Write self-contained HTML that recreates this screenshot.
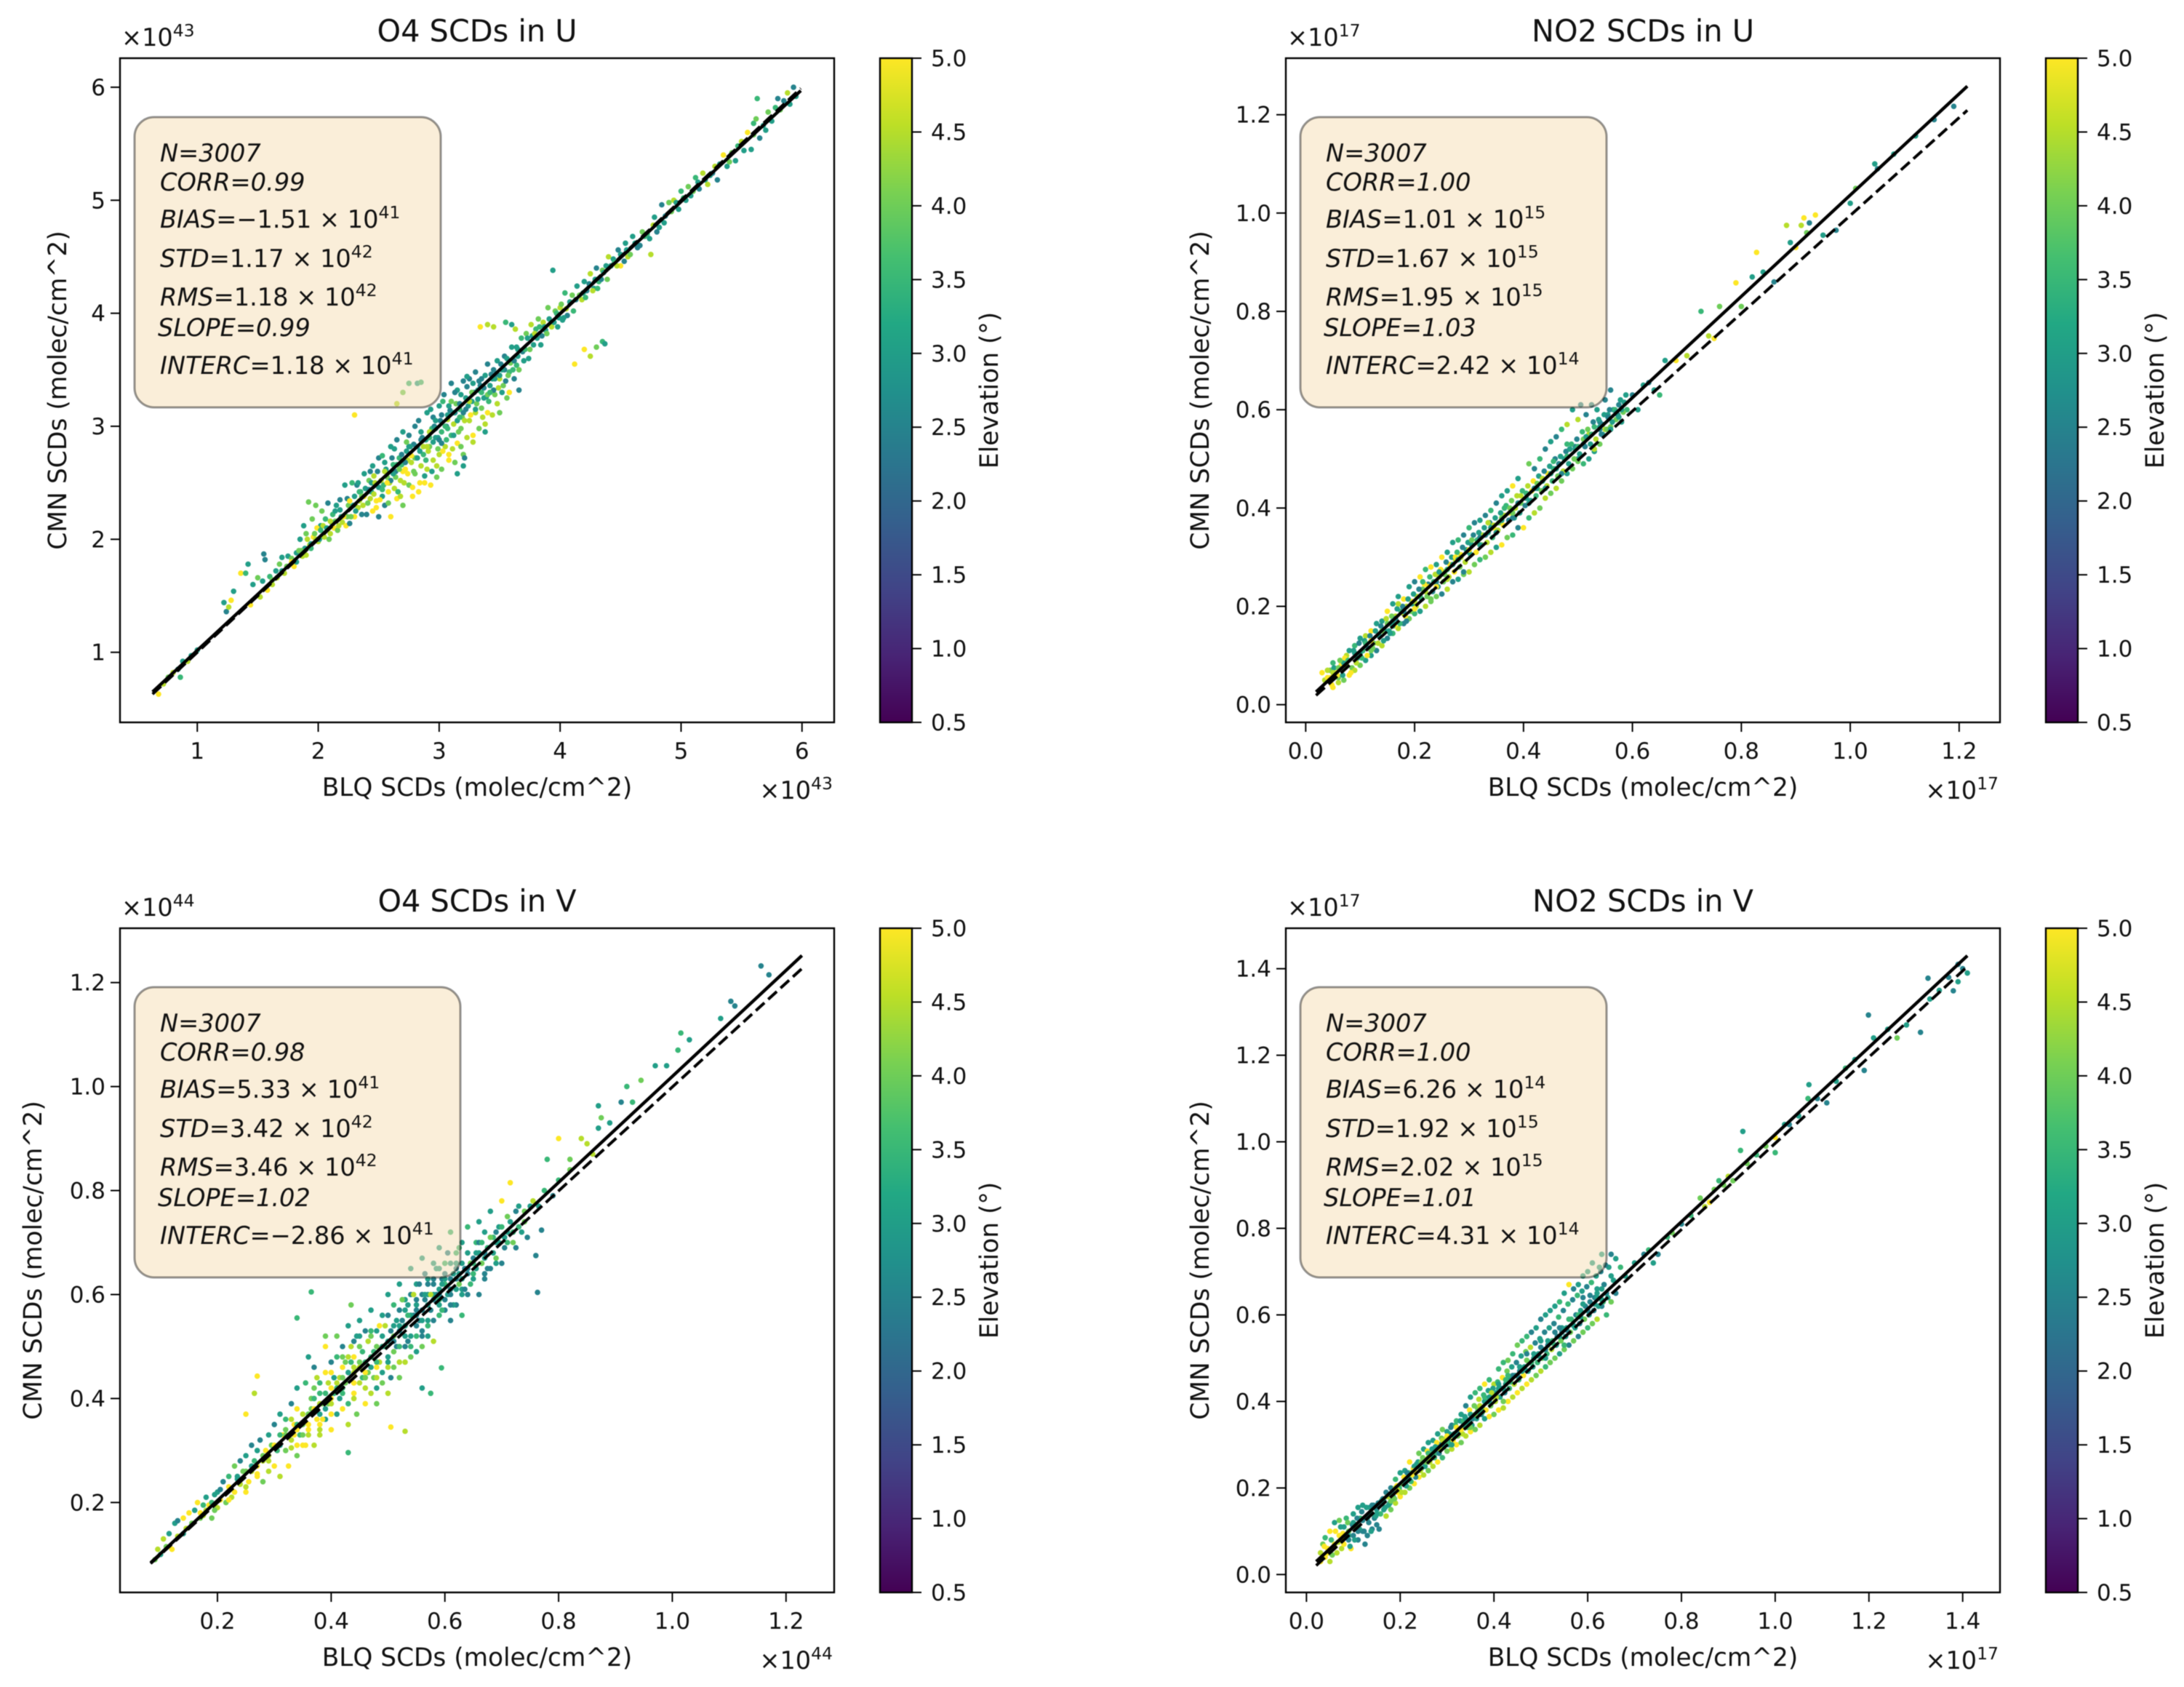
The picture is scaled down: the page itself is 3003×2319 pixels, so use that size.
<!DOCTYPE html>
<html lang="en">
<head>
<meta charset="utf-8">
<title>BLQ vs CMN SCDs scatter comparison</title>
<style>
html,body{margin:0;padding:0;background:#fff;}
svg{display:block;font-family:"DejaVu Sans","Liberation Sans",sans-serif;fill:#111;filter:blur(.5px);}
</style>
</head>
<body>
<!-- Scatter arrays are hand-estimated from the image: a reduced subset of the 3007 points per panel. Isolated outliers are read individually; positions inside the dense bands are approximate. -->
<svg id="figure" width="3003" height="2319" viewBox="0 0 3003 2319">
<defs>
<linearGradient id="viridis" x1="0" y1="1" x2="0" y2="0">
<stop offset="0" stop-color="#440154"/><stop offset=".1" stop-color="#482475"/><stop offset=".2" stop-color="#414487"/><stop offset=".3" stop-color="#355f8d"/><stop offset=".4" stop-color="#2a788e"/><stop offset=".5" stop-color="#21918c"/><stop offset=".6" stop-color="#22a884"/><stop offset=".7" stop-color="#44bf70"/><stop offset=".8" stop-color="#7ad151"/><stop offset=".9" stop-color="#bddf26"/><stop offset="1" stop-color="#fde725"/>
</linearGradient>
</defs>
</svg>
<script>
const o4uX=[.68,.72,.76,.80,.84,.86,.88,.92,.95,1.0,
1.22,1.24,1.26,1.28,1.30,1.36,1.40,1.42,1.44,1.46,
1.50,1.52,1.54,1.55,1.56,1.58,1.60,1.62,1.65,1.68,
1.70,1.72,1.75,1.78,1.80,1.82,1.85,1.87,1.88,1.90,
1.92,1.93,1.95,1.96,1.98,2.0,2.02,2.03,2.05,2.06,
2.08,2.1,2.12,2.13,2.15,2.16,2.18,2.2,2.22,2.23,
2.25,2.26,2.28,2.3,2.3,2.32,2.33,2.35,2.36,2.38,
2.38,2.4,2.42,2.43,2.45,2.45,2.47,2.48,2.5,2.5,
2.52,2.53,2.55,2.55,2.57,2.58,2.6,2.6,2.62,2.63,
2.65,2.65,2.67,2.68,2.7,2.7,2.72,2.73,2.75,2.75,
2.77,2.78,2.8,2.8,2.82,2.83,2.85,2.85,2.87,2.88,
2.9,2.9,2.92,2.93,2.95,2.95,2.97,2.98,3.0,3.0,
3.02,3.02,3.04,3.05,3.07,3.08,3.1,3.1,3.12,3.13,
3.15,3.15,3.17,3.18,3.2,3.2,3.22,3.23,3.25,3.25,
3.27,3.28,3.3,3.3,3.32,3.33,3.35,3.35,3.37,3.38,
3.4,3.4,3.42,3.44,3.45,3.46,3.48,3.5,3.5,3.52,
3.54,3.56,3.58,3.6,3.62,3.63,3.65,3.66,3.68,3.7,
3.72,3.74,3.76,3.78,3.8,3.82,3.84,3.86,3.88,3.9,
3.92,3.94,3.96,3.98,4.0,4.02,4.04,4.06,4.1,4.12,
4.14,4.18,4.2,4.22,4.25,4.28,4.3,4.32,4.35,4.38,
4.4,4.44,4.48,4.5,4.54,4.56,4.6,4.64,4.68,4.72,
4.75,4.78,4.8,4.84,4.86,4.9,4.94,4.98,5.0,5.04,
5.06,5.08,5.12,5.15,5.18,5.2,5.24,5.28,5.3,5.35,
5.38,5.42,5.45,5.5,5.55,5.58,5.6,5.62,5.65,5.7,
5.72,5.75,5.78,5.8,5.82,5.85,5.88,5.9,5.93,5.95,
3.34,3.4,3.45,3.55,3.6,2.65,2.7,2.75,2.82,2.85,
2.3,3.2,3.21,3.15,4.2,4.25,4.3,4.35,4.37,5.63,
2.44,2.56,2.64,2.74,2.84,2.94,3.06,3.14,3.24,3.34,
2.46,2.58,2.69,2.79,2.89,2.99,3.09,3.19,3.29,3.39,
3.44,3.49,3.54,3.59,3.64,2.34,2.29,2.24,2.19,2.14,
1.84,1.89,1.91,1.94,1.97,1.99,2.01,2.04,2.07,2.09,
2.11,2.14,2.17,2.21,2.24,2.27,2.31,2.34,2.37,2.39,
2.41,2.44,2.46,2.49,2.51,2.54,2.56,2.59,2.61,2.64,
2.66,2.69,2.71,2.74,2.76,2.79,2.81,2.84,2.86,2.89,
2.91,2.94,2.96,2.99,3.01,3.03,3.06,3.08,3.11,3.13,
3.16,3.18,3.21,3.23,3.26,3.28,3.31,3.33,3.36,3.38,
3.41,3.43,3.46,3.48,3.51,3.53,3.56,3.58,3.61,3.64,
3.66,3.69,3.71,3.73,3.75,3.77,3.79,3.81,3.83,3.85,
3.87,3.89,3.91,3.93,3.95,3.97,3.99,4.01,4.03,4.05,
4.08,4.11,4.13,4.16,4.19,4.21,4.24,4.27,4.29,4.31,
4.34,4.36,4.39,4.42,4.45,4.47,4.5,4.53,4.55,4.58,
4.62,4.66,4.7,4.74,4.77,4.82,4.87,4.92,4.96,5.02,
5.1,5.14,5.22,5.26,5.32,5.4,5.47,5.52,5.6,5.68,
2.5,2.55,2.6,2.65,2.7,2.75,2.8,2.85,2.9,2.95,
3.0,3.05,3.1,3.15,3.2,3.25,3.3,3.35,3.4,3.45,
3.5,3.55,3.6,3.65,2.92,2.97,3.02,3.07,3.12,3.17,
2.02,2.1,2.18,2.26,2.36,2.42,2.47,2.53,2.57,2.62,
2.67,2.72,2.77,2.82,2.87,2.92,2.97,3.02,3.07,3.12,
3.17,3.22,3.27,3.32,3.37,3.42,3.47,3.52,3.57,3.62,
2.48,2.58,2.68,2.78,2.88,2.98,3.08,3.18,3.28,3.38,
2.33,2.43,2.53,2.63,2.73,2.83,2.93,3.03,3.13,3.23,
1.62,1.66,1.7,1.74,1.78,1.82,1.86,1.9,1.94,1.98];
const o4uY=[.63,.72,.78,.82,.85,.78,.92,.92,.97,1.02,
1.44,1.36,1.40,1.46,1.54,1.70,1.70,1.78,1.42,1.60,
1.66,1.49,1.63,1.87,1.82,1.55,1.67,1.60,1.72,1.78,
1.84,1.70,1.85,1.83,1.76,1.88,2.0,1.85,2.12,2.05,
2.33,1.95,2.18,2.02,2.30,1.98,2.12,2.25,2.02,2.18,
2.32,2.05,2.22,2.1,2.30,2.08,2.35,2.15,2.48,2.12,
2.30,2.14,2.50,2.2,2.38,2.48,2.28,2.42,2.22,2.58,
2.38,2.22,2.52,2.36,2.65,2.25,2.48,2.34,2.72,2.2,
2.52,2.38,2.68,2.3,2.55,2.42,2.82,2.2,2.66,2.45,
2.88,2.36,2.72,2.52,2.95,2.3,2.62,2.78,2.92,2.48,
2.68,2.38,3.0,2.58,2.82,2.42,2.95,2.65,2.75,2.5,
3.12,2.62,2.82,2.48,3.08,2.7,2.9,2.55,3.18,2.75,
2.95,2.62,3.28,2.82,3.1,2.7,3.38,2.92,3.02,2.68,
3.32,2.85,3.15,2.98,3.4,2.75,3.25,2.9,3.42,3.05,
3.22,2.92,3.48,3.12,3.32,2.98,3.42,3.16,3.25,3.02,
3.55,3.12,3.36,3.1,3.5,3.28,3.58,3.42,3.12,3.3,
3.62,3.25,3.48,3.7,3.42,3.86,3.62,3.32,3.78,3.58,
3.82,3.6,3.9,3.72,3.86,3.95,3.72,3.92,3.85,4.05,
3.9,4.38,4.02,3.88,4.05,3.94,4.18,3.98,4.16,3.55,
4.24,4.12,4.28,4.2,4.35,4.22,4.4,4.28,4.38,4.42,
4.5,4.48,4.56,4.42,4.62,4.5,4.68,4.58,4.72,4.7,
4.52,4.85,4.72,4.96,4.8,4.98,5.0,4.92,5.08,5.0,
5.12,5.04,5.2,5.1,5.24,5.18,5.22,5.3,5.18,5.4,
5.3,5.42,5.35,5.52,5.6,5.45,5.68,5.72,5.55,5.62,
5.78,5.7,5.82,5.9,5.8,5.88,5.95,5.85,6.0,5.92,
3.88,3.9,3.88,3.92,3.9,3.2,3.3,3.38,3.38,3.39,
3.1,2.65,2.72,2.58,3.68,3.62,3.7,3.75,3.73,5.9,
2.42,2.6,2.6,2.7,2.78,2.98,3.0,3.2,3.18,3.36,
2.56,2.5,2.66,2.84,2.88,2.9,3.14,3.08,3.3,3.26,
3.42,3.34,3.5,3.56,3.54,2.34,2.3,2.2,2.2,2.16,
1.9,1.92,2.0,1.92,2.05,2.1,2.0,2.12,2.1,2.0,
2.15,2.25,2.12,2.2,2.36,2.2,2.25,2.42,2.3,2.45,
2.32,2.5,2.4,2.6,2.35,2.48,2.62,2.5,2.72,2.55,
2.42,2.75,2.5,2.58,2.82,2.6,2.72,2.5,2.9,2.7,
2.78,2.6,3.0,2.8,3.05,2.78,2.88,3.18,2.8,3.12,
2.95,3.28,3.05,3.35,3.1,3.38,3.2,3.4,3.08,3.45,
3.22,3.46,3.42,3.2,3.55,3.36,3.6,3.3,3.5,3.7,
3.5,3.66,3.68,3.78,3.68,3.8,3.82,3.78,3.88,3.8,
3.88,3.82,3.95,3.88,3.92,4.0,3.96,4.08,3.96,4.04,
4.1,4.02,4.12,4.16,4.18,4.14,4.26,4.2,4.3,4.22,
4.3,4.36,4.3,4.42,4.45,4.42,4.52,4.46,4.56,4.52,
4.62,4.6,4.68,4.66,4.78,4.76,4.86,4.9,4.98,5.02,
5.08,5.16,5.14,5.24,5.32,5.34,5.48,5.44,5.58,5.66,
2.46,2.6,2.52,2.66,2.6,2.82,2.72,2.88,2.82,2.86,
2.88,3.0,3.22,3.05,3.12,3.22,3.15,3.3,3.28,3.32,
3.45,3.4,3.58,3.68,2.95,3.05,3.1,2.98,3.12,3.2,
2.08,2.16,2.26,2.34,2.38,2.44,2.5,2.44,2.5,2.58,
2.62,2.68,2.74,2.72,2.82,2.9,2.98,2.85,3.06,2.92,
3.08,3.15,3.3,3.24,3.34,3.3,3.46,3.5,3.45,3.58,
2.28,2.32,2.38,2.46,2.56,2.65,2.75,2.82,2.86,2.95,
2.5,2.6,2.74,2.8,2.86,3.05,3.15,3.22,3.3,3.44,
1.64,1.66,1.72,1.76,1.8,1.8,1.9,1.86,1.96,2.0];
const o4uE=[5,4.5,4,4.5,3,3.5,3,4.5,3,3,
3,2.5,4.5,5,3,5,3.5,3,5,3,
4,4.5,3,2.5,2.5,5,3.5,4.5,3,4,
3,4.5,3,4,5,3,3,4.5,3,4,
4,4.5,4,5,4,4.5,3,4,4.5,3.5,
2.5,4.5,3.5,5,3,4,2.5,4.5,3,5,
4,2.5,3.5,5,3,2.5,4.5,3.5,2.5,3,
5,2.5,4,4.5,3,5,3.5,5,2.5,2.5,
4.5,3,3,2.5,4,5,3,5,3.5,4.5,
2.5,5,3.5,4.5,3,4,5,3,2.5,4,
4.5,5,2.5,4,3,5,3,4.5,3.5,5,
3,4.5,4,5,2.5,4.5,3,4,3,4.5,
3.5,4,2.5,4.5,3,5,2.5,3.5,4.5,4,
3,5,3.5,4,2.5,4,3,4.5,2.5,4.5,
3,5,2.5,4.5,3,4,2.5,4,3,4.5,
2.5,5,3,4.5,2.5,4,3,4.5,4,3,
2.5,4,3.5,3,2.5,4.5,3,2.5,3.5,3,
4,3,4.5,3,3.5,4,3,4.5,3,4,
3.5,3,4,3,4.5,3,3.5,2.5,4,5,
3,4.5,3,2.5,4.5,3,2.5,3.5,4,3,
4.5,3,2.5,5,3,4.5,3,2.5,4,3.5,
4.5,3,2.5,2.5,3,4,4.5,3,3.5,3,
4,3,3.5,2.5,4.5,3,3,4.5,2.5,5,
3,4,3,4.5,5,3,3.5,4,2.5,3,
4,3,3.5,2.5,4,2.5,4.5,3,2.5,3,
5,4.5,4.5,3.5,3,4.5,4,3.5,3,3.5,
5,3,2.5,3,5,4.5,4,3.5,3,3.5,
3,4,2.5,4.5,3,3.5,2.5,4,3,2.5,
4.5,3,3.5,2.5,3,3,2.5,4,2.5,3,
3,4.5,2.5,4,3.5,4.5,3,4,3,4,
4,3,4.5,3.5,4,5,3,4.5,3,4,
3.5,3,4.5,5,2.5,4,3,3.5,4.5,3,
4,3,4.5,2.5,5,3.5,3,4.5,2.5,4,
3.5,2.5,4.5,5,3,4,3,5,2.5,3.5,
4.5,3,2.5,4,2.5,5,3.5,3,4.5,2.5,
4,3,4.5,2.5,5,3,4,2.5,4.5,3,
3.5,2.5,3,4.5,2.5,4,3,5,3.5,3,
4,2.5,3.5,3,4,3,4.5,3,3.5,2.5,
3,4,3,4.5,3,3.5,3,4,3,4.5,
3,3.5,2.5,4,3,3.5,2.5,4.5,3,3.5,
2.5,3,4,3,3.5,4.5,3,2.5,3,4,
3,2.5,3.5,3,4.5,3,2.5,4,3,3.5,
4,3,4.5,2.5,3,4,3.5,3,4,3,
3,4.5,2.5,3.5,5,3,4,2.5,4.5,3,
2.5,3.5,4,3,2.5,4.5,3,3.5,4,2.5,
3,2.5,4,3,4.5,3,2.5,3.5,3,2.5,
3.5,4.5,3,5,4,2.5,4.5,3.5,5,3,
4,2.5,5,3,4.5,3.5,3,2.5,4.5,3,
3.5,2.5,4,3,2.5,3.5,2.5,3,4,2.5,
5,4,4.5,5,3,4.5,5,4,4.5,3,
3,2.5,3.5,3,4,2.5,3,3.5,2.5,3,
4,4.5,3,4,5,3,4,4.5,3,4.5];
const o4uFitX=[.63,5.99];
const o4uFitY=[.65,5.97];
const o4uRefY=[.63,5.99];
const o4uXTicks=[1,2,3,4,5,6];
const o4uYTicks=[1,2,3,4,5,6];
const o4uXLabels=["1","2","3","4","5","6"];
const o4uYLabels=["1","2","3","4","5","6"];
const o4uXLim=[.361,6.266];
const o4uYLim=[.38,6.257];

const no2uX=[.03,.035,.04,.045,.05,.05,.055,.06,.06,.065,
.07,.07,.075,.08,.08,.085,.09,.09,.095,.1,
.1,.105,.11,.11,.115,.12,.12,.125,.13,.13,
.135,.14,.14,.145,.15,.15,.155,.16,.16,.165,
.17,.17,.175,.18,.18,.185,.19,.19,.195,.2,
.2,.205,.21,.21,.215,.22,.22,.225,.23,.23,
.235,.24,.24,.245,.25,.25,.255,.26,.26,.265,
.27,.27,.275,.28,.28,.285,.29,.29,.295,.3,
.3,.305,.31,.31,.315,.32,.32,.325,.33,.33,
.335,.34,.34,.345,.35,.35,.355,.36,.36,.365,
.37,.37,.375,.38,.38,.385,.39,.39,.395,.4,
.405,.41,.41,.415,.42,.42,.425,.43,.43,.435,
.44,.44,.445,.45,.45,.455,.46,.46,.465,.47,
.47,.475,.48,.48,.485,.49,.49,.495,.5,.5,
.505,.51,.51,.515,.52,.52,.525,.53,.53,.535,
.54,.54,.545,.55,.55,.555,.56,.56,.565,.57,
.575,.58,.59,.6,.61,.62,.63,.64,.65,.66,
.68,.70,.726,.74,.75,.76,.79,.80,.82,.828,
.84,.86,.883,.89,.90,.91,.925,.936,.95,.974,
1.0,1.01,1.045,1.05,1.08,1.12,1.154,1.19,.92,.915,
.04,.048,.052,.058,.063,.068,.072,.078,.083,.088,
.093,.098,.103,.108,.113,.118,.123,.128,.133,.138,
.143,.148,.153,.158,.163,.168,.173,.178,.183,.188,
.193,.198,.203,.208,.213,.218,.223,.228,.233,.238,
.243,.248,.253,.258,.263,.268,.273,.278,.283,.288,
.293,.298,.303,.308,.313,.318,.323,.328,.333,.338,
.343,.348,.353,.358,.363,.368,.373,.378,.383,.388,
.393,.398,.403,.408,.413,.418,.423,.428,.433,.438,
.443,.448,.453,.458,.463,.468,.473,.478,.483,.488,
.493,.498,.503,.508,.513,.518,.523,.528,.533,.538,
.543,.548,.553,.558,.563,.568,.573,.578,.583,.588,
.045,.06,.075,.09,.105,.12,.135,.15,.165,.18,
.195,.21,.225,.24,.255,.27,.285,.3,.315,.33,
.345,.36,.375,.39,.405,.42,.435,.45,.465,.48,
.495,.51,.525,.54,.555,.57,.585,.05,.11,.16,
.155,.17,.185,.2,.215,.23,.245,.26,.275,.29,
.305,.32,.335,.35,.365,.38,.395,.41,.425,.44,
.455,.47,.485,.5,.515,.53,.545,.56,.575,.48,
.1,.14,.18,.22,.26,.3,.34,.38,.42,.46,
.5,.54,.58,.12,.16,.2,.24,.28,.32,.36];
const no2uY=[.065,.05,.055,.07,.035,.085,.065,.045,.055,.08,
.05,.085,.1,.06,.11,.075,.12,.07,.095,.135,
.08,.11,.14,.09,.115,.15,.10,.125,.165,.11,
.14,.17,.12,.15,.19,.135,.165,.205,.145,.18,
.22,.155,.19,.215,.165,.2,.24,.175,.21,.25,
.185,.22,.26,.19,.235,.275,.2,.245,.28,.21,
.25,.285,.22,.26,.30,.225,.27,.31,.235,.285,
.33,.25,.295,.335,.255,.305,.345,.265,.315,.36,
.27,.325,.37,.285,.33,.375,.295,.345,.385,.30,
.35,.395,.31,.36,.41,.32,.37,.425,.325,.385,
.435,.34,.39,.445,.345,.40,.46,.36,.41,.36,
.42,.49,.38,.435,.48,.39,.44,.50,.40,.455,
.52,.42,.47,.535,.43,.48,.545,.44,.49,.56,
.455,.50,.57,.47,.52,.60,.48,.525,.58,.50,
.61,.49,.54,.59,.50,.55,.61,.515,.565,.60,
.53,.575,.55,.62,.56,.59,.64,.565,.60,.58,
.61,.575,.6,.63,.6,.65,.655,.64,.63,.70,
.70,.71,.80,.75,.745,.81,.858,.81,.87,.92,
.88,.86,.975,.94,.93,.975,.98,.996,.955,.965,
1.02,1.05,1.10,1.09,1.12,1.157,1.19,1.217,.96,.99,
.07,.04,.075,.06,.09,.06,.095,.09,.065,.11,
.085,.125,.095,.13,.1,.14,.115,.15,.125,.16,
.13,.175,.15,.18,.16,.195,.165,.2,.18,.215,
.19,.225,.2,.235,.215,.245,.22,.26,.23,.265,
.24,.275,.25,.29,.26,.3,.27,.31,.28,.32,
.29,.33,.305,.345,.31,.35,.325,.36,.33,.37,
.34,.38,.355,.39,.365,.405,.375,.415,.38,.425,
.39,.435,.405,.445,.415,.455,.425,.465,.435,.475,
.445,.485,.455,.5,.465,.505,.475,.515,.49,.53,
.5,.54,.51,.555,.525,.56,.53,.575,.54,.58,
.55,.59,.56,.6,.575,.6,.59,.62,.595,.63,
.055,.075,.08,.105,.11,.13,.14,.165,.175,.185,
.205,.22,.24,.25,.265,.285,.3,.31,.335,.345,
.365,.375,.4,.41,.43,.44,.46,.47,.49,.505,
.52,.53,.55,.565,.585,.595,.615,.065,.125,.17,
.145,.205,.17,.195,.25,.215,.27,.255,.3,.27,
.335,.325,.37,.35,.4,.38,.425,.41,.45,.44,
.495,.47,.52,.495,.545,.52,.57,.56,.585,.53,
.105,.15,.19,.23,.275,.315,.36,.39,.44,.48,
.525,.56,.6,.11,.16,.21,.24,.295,.34,.38];
const no2uE=[5,4.5,5,4,5,3.5,5,4.5,4,5,
4,3,4.5,5,3,4,3.5,4.5,3,3,
4,3,4.5,3,2.5,5,3,4,3,2.5,
3.5,3,4.5,3,5,2.5,4,3,3.5,4.5,
3,4.5,3.5,5,2.5,4.5,3,4,5,2.5,
3.5,4.5,5,3,4,3.5,4.5,2.5,5,4,
3.5,3,4,4.5,5,2.5,4,3,4.5,5,
3,2.5,4.5,3.5,3,5,2.5,4,3,3.5,
4.5,3,2.5,4,5,3,3.5,4.5,2.5,4,
3,3.5,4.5,5,2.5,3,4,3,5,4.5,
3,4,5,5,3.5,4.5,3,2.5,4,5,
3,4,3.5,5,2.5,4.5,3,3.5,4,3,
2.5,4.5,5,3,4,3.5,2.5,4.5,3,3.5,
4,3,4.5,3,2.5,3,4,2.5,4.5,3,
2.5,3.5,4,2.5,3,4.5,2.5,3,3.5,3,
4,2.5,3,2.5,4.5,3,2.5,4,3,4,
2.5,3,3.5,2.5,3,3,2.5,3,3.5,3,
5,4.5,3.5,4.5,5,4,5,4,3,5,
3,2.5,4.5,3,5,4.5,2.5,5,3,2.5,
3,4,3,2.5,3,3,2.5,2.5,4,5,
4.5,5,3,5,4,3,5,3.5,5,3,
4.5,2.5,3.5,3,5,2.5,4,3,4.5,2.5,
3,4.5,3,4,5,3,3.5,2.5,5,3,
4,3,4.5,2.5,3,5,4,3.5,2.5,4.5,
3,5,4,2.5,4.5,3,5,3.5,4,2.5,
4.5,3,3.5,2.5,5,3,4,3,4.5,2.5,
3.5,3,4.5,3,5,3.5,2.5,4,3,4.5,
3,3.5,2.5,4.5,3,5,3.5,3,4,2.5,
4.5,3,3.5,2.5,4,3,4.5,2.5,3,3.5,
4,2.5,3,3.5,2.5,4,3,2.5,4.5,3,
2.5,3,4,2.5,3,3.5,2.5,3,4,3,
5,4,4.5,3,3.5,5,3,4,2.5,4.5,
3,3.5,5,2.5,4,3,4.5,3,3.5,2.5,
4.5,3,4,2.5,3.5,3,4.5,3,2.5,3.5,
3,2.5,3.5,3,2.5,3,3,4.5,3.5,3,
3,4.5,2.5,5,3.5,4,3,4.5,5,2.5,
4,3,4.5,3,3.5,2.5,4.5,3,4,3,
3.5,2.5,3,4,3,4.5,2.5,3,3,3.5,
3,4,2.5,4.5,3.5,5,3,4,2.5,3,
3.5,2.5,3,4,3,4.5,5,3,2.5,4];
const no2uFitX=[.019,1.215];
const no2uFitY=[.026,1.258];
const no2uRefY=[.019,1.209];
const no2uXTicks=[0,.2,.4,.6,.8,1,1.2];
const no2uYTicks=[0,.2,.4,.6,.8,1,1.2];
const no2uXLabels=["0.0","0.2","0.4","0.6","0.8","1.0","1.2"];
const no2uYLabels=["0.0","0.2","0.4","0.6","0.8","1.0","1.2"];
const no2uXLim=[-.0365,1.275];
const no2uYLim=[-.036,1.315];

const o4vX=[.09,.095,.1,.105,.11,.115,.12,.125,.13,.13,
.14,.14,.145,.15,.155,.16,.165,.17,.175,.18,
.18,.185,.19,.19,.195,.2,.2,.205,.21,.215,
.22,.22,.225,.23,.23,.235,.24,.24,.245,.25,
.25,.255,.26,.26,.265,.27,.27,.275,.28,.28,
.285,.29,.29,.295,.3,.3,.305,.31,.31,.315,
.32,.32,.325,.33,.33,.335,.34,.34,.345,.35,
.35,.355,.36,.36,.365,.37,.37,.375,.38,.38,
.385,.39,.39,.395,.4,.4,.405,.41,.41,.415,
.42,.42,.425,.43,.43,.435,.44,.44,.445,.45,
.45,.455,.46,.46,.465,.47,.47,.475,.48,.48,
.485,.49,.49,.495,.5,.5,.505,.51,.51,.515,
.52,.52,.525,.53,.53,.535,.54,.54,.545,.55,
.55,.555,.56,.56,.565,.57,.57,.575,.58,.58,
.585,.59,.59,.595,.6,.6,.605,.61,.61,.615,
.62,.62,.625,.63,.63,.635,.64,.64,.645,.65,
.655,.66,.66,.665,.67,.67,.675,.68,.68,.685,
.69,.695,.7,.7,.705,.71,.72,.725,.73,.74,
.75,.76,.763,.77,.715,.78,.79,.8,.82,.84,
.85,.87,.875,.87,.91,.92,.945,.97,.99,1.01,
1.015,1.03,1.085,1.103,1.11,1.156,1.17,.27,.265,.25,
.43,.53,.505,.575,.594,.365,.435,.34,.39,.56,
.44,.46,.48,.5,.52,.54,.56,.58,.6,.62,
.53,.55,.57,.59,.61,.63,.65,.67,.69,.71,
.55,.56,.57,.58,.59,.6,.61,.62,.54,.53,
.17,.175,.195,.205,.22,.235,.25,.26,.27,.28,
.29,.3,.31,.32,.33,.335,.34,.35,.355,.36,
.365,.37,.375,.38,.385,.39,.395,.4,.405,.41,
.415,.42,.425,.43,.435,.44,.445,.45,.455,.46,
.465,.47,.475,.48,.485,.49,.495,.5,.505,.51,
.515,.52,.525,.53,.535,.54,.545,.55,.555,.56,
.565,.57,.575,.58,.585,.59,.595,.6,.605,.61,
.615,.62,.625,.63,.635,.64,.645,.65,.655,.66,
.665,.67,.675,.68,.685,.69,.695,.7,.705,.71,
.715,.72,.725,.73,.735,.74,.745,.755,.765,.775,
.52,.535,.55,.565,.58,.595,.61,.625,.64,.655,
.56,.57,.58,.59,.6,.44,.45,.46,.47,.48,
.49,.5,.51,.33,.34,.35,.36,.37,.38,.39,
.4,.41,.42,.43,.44,.8,.82,.86,.89,.93,
.38,.4,.42,.44,.46,.48,.5,.52,.54,.56,
.37,.39,.41,.43,.45,.47,.49,.51,.53,.55,
.34,.36,.38,.4,.42,.44,.46,.48,.5,.52,
.57,.59,.61,.63,.65,.67,.69,.62,.64,.66,
.25,.27,.29,.31,.32,.34,.36,.38,.4,.42,
.45,.47,.49,.51,.53,.55,.57,.59,.61,.63];
const o4vY=[.09,.11,.1,.13,.115,.14,.11,.16,.135,.165,
.14,.17,.15,.18,.16,.185,.2,.17,.175,.21,
.185,.195,.2,.17,.215,.19,.22,.205,.24,.2,
.23,.25,.21,.27,.22,.245,.28,.235,.26,.22,
.29,.24,.31,.26,.28,.3,.255,.32,.24,.28,
.3,.33,.26,.31,.35,.27,.3,.37,.25,.33,
.3,.36,.27,.39,.32,.35,.29,.42,.33,.37,
.31,.43,.34,.48,.38,.31,.46,.36,.41,.33,
.39,.5,.36,.43,.47,.34,.41,.52,.37,.44,
.5,.38,.43,.54,.35,.47,.41,.51,.37,.55,
.43,.49,.39,.53,.45,.57,.41,.49,.53,.39,
.47,.56,.43,.5,.6,.41,.53,.46,.58,.5,
.62,.44,.55,.47,.59,.51,.65,.48,.56,.52,
.62,.55,.67,.5,.59,.54,.63,.57,.66,.51,
.6,.56,.69,.63,.57,.66,.6,.72,.55,.64,
.68,.58,.62,.7,.56,.65,.73,.6,.66,.63,
.7,.74,.6,.66,.72,.63,.69,.76,.65,.71,
.67,.73,.78,.66,.71,.75,.72,.69,.77,.74,
.77,.675,.604,.724,.815,.86,.79,.90,.86,.90,
.89,.92,.94,.963,.97,1.0,1.012,1.04,1.04,1.07,
1.103,1.09,1.131,1.164,1.155,1.232,1.215,.443,.41,.37,
.296,.337,.345,.41,.459,.605,.58,.555,.52,.42,
.46,.47,.5,.51,.53,.56,.57,.6,.62,.63,
.52,.54,.58,.58,.6,.61,.66,.68,.7,.7,
.58,.6,.6,.62,.65,.59,.66,.61,.6,.57,
.18,.195,.185,.225,.205,.25,.23,.27,.27,.29,
.28,.31,.31,.33,.305,.33,.35,.35,.31,.37,
.4,.38,.44,.37,.36,.41,.39,.37,.44,.43,
.4,.46,.47,.39,.5,.43,.52,.47,.44,.45,
.51,.46,.44,.47,.54,.45,.54,.48,.44,.52,
.55,.5,.59,.5,.56,.52,.6,.49,.62,.55,
.64,.52,.6,.55,.65,.6,.57,.63,.68,.61,
.58,.65,.69,.63,.61,.68,.62,.67,.65,.7,
.7,.67,.65,.71,.68,.72,.7,.73,.69,.72,
.74,.7,.76,.73,.72,.76,.71,.78,.77,.8,
.57,.58,.59,.6,.63,.62,.63,.64,.65,.68,
.53,.55,.59,.61,.64,.48,.5,.42,.48,.46,
.52,.56,.49,.36,.31,.33,.35,.4,.39,.38,
.42,.42,.44,.45,.45,.82,.84,.87,.93,.97,
.35,.39,.41,.43,.44,.44,.47,.47,.5,.52,
.42,.45,.48,.48,.52,.52,.5,.54,.54,.57,
.34,.37,.34,.4,.42,.4,.44,.42,.46,.54,
.62,.59,.58,.6,.64,.64,.66,.66,.64,.68,
.26,.25,.29,.33,.34,.38,.33,.43,.45,.48,
.46,.53,.5,.51,.54,.56,.58,.59,.61,.66];
const o4vE=[4,4.5,3,4.5,4,3,5,3,4.5,2.5,
3,5,4.5,5,4,3,5,4,4.5,3,
4.5,5,3.5,4,3,4.5,3,5,2.5,4,
5,3.5,4.5,4,5,3,2.5,4.5,4,5,
3,5,2.5,4.5,3.5,3,5,2.5,4,4.5,
5,3,4.5,4,2.5,5,3.5,3,4.5,5,
4,3.5,5,2.5,4.5,5,4,3,3.5,4.5,
5,3.5,5,3,4,4.5,2.5,5,3.5,4.5,
4,5,3,4.5,2.5,5,3.5,4,3,4.5,
2.5,5,4,3,4.5,3.5,5,2.5,4,3,
4.5,3.5,5,2.5,4,3,4.5,3.5,3,4,
4.5,3,4,3.5,3,4.5,2.5,4,3.5,2.5,
3,4,2.5,4.5,3,2.5,3,4,2.5,3.5,
3,2.5,3,4,2.5,3.5,3,2.5,3,4.5,
2.5,3.5,3,2.5,2.5,3.5,3,3.5,2.5,3,
3.5,2.5,4,3,3.5,2.5,3.5,2.5,4,3,
3.5,3,2.5,4,3,2.5,3.5,3,2.5,3.5,
4,3,5,2.5,3,4,3.5,2.5,3,4,
3,2.5,2.5,2.5,5,3.5,2.5,5,4,4.5,
4.5,3,4,3,2.5,3.5,4,3,3,3.5,
3.5,3,3,2.5,2.5,2.5,2.5,5,4.5,5,
3.5,4.5,5,3.5,3.5,3.5,4,3.5,4,3,
4.5,3.5,4,3,2.5,3,2.5,3,3.5,2.5,
3,2.5,3.5,3,2.5,3,3.5,2.5,3,3.5,
3,2.5,3,2.5,3,2.5,3,3,2.5,3,
5,3.5,4,2.5,5,3,4.5,3,5,4,
4.5,5,3,4,4.5,5,3.5,4,5,3,
4,5,4.5,3,5,3.5,4,5,3,4.5,
3,5,4,3.5,4.5,5,3,4,3.5,5,
4.5,3,4,3.5,5,3,4.5,3,2.5,4,
3,3.5,4,2.5,3.5,3,4.5,3,2.5,3,
2.5,3,4.5,2.5,3,2.5,3.5,3,2.5,4,
3,2.5,3.5,3,2.5,3,3.5,2.5,3,2.5,
3.5,3,2.5,4,3,2.5,3,3.5,2.5,3,
3,4,2.5,3.5,3,4,2.5,4.5,3,3.5,
2.5,3,2.5,3,2.5,3,2.5,3,2.5,3,
2.5,3,2.5,3,2.5,5,4,4.5,3.5,5,
3,2.5,4,4.5,5,4,5,3.5,4.5,3,
5,3.5,4,3,4.5,3.5,4,4.5,3,3.5,
5,4.5,3.5,5,4,4.5,3,4.5,3.5,2.5,
4,5,3.5,4.5,3,4,5,3,3.5,2.5,
5,4,4.5,5,3.5,4.5,4,3,4.5,3,
2.5,3,2.5,3,3.5,2.5,3,3,2.5,3,
4,5,4.5,3.5,4,5,4.5,3.5,5,4,
4.5,3.5,3,2.5,3,2.5,3,3.5,2.5,3];
const o4vFitX=[.0825,1.228];
const o4vFitY=[.084,1.252];
const o4vRefY=[.0825,1.227];
const o4vXTicks=[.2,.4,.6,.8,1,1.2];
const o4vYTicks=[.2,.4,.6,.8,1,1.2];
const o4vXLabels=["0.2","0.4","0.6","0.8","1.0","1.2"];
const o4vYLabels=["0.2","0.4","0.6","0.8","1.0","1.2"];
const o4vXLim=[.0286,1.2847];
const o4vYLim=[.027,1.3045];

const no2vX=[.03,.03,.035,.04,.04,.045,.05,.05,.055,.06,
.06,.065,.07,.07,.075,.08,.08,.085,.09,.09,
.095,.1,.1,.105,.11,.11,.115,.12,.12,.125,
.13,.13,.135,.14,.14,.145,.15,.15,.155,.16,
.165,.17,.17,.175,.18,.18,.185,.19,.19,.195,
.2,.2,.205,.21,.21,.215,.22,.22,.225,.23,
.235,.24,.24,.245,.25,.25,.255,.26,.26,.265,
.27,.27,.275,.28,.28,.285,.29,.29,.295,.3,
.3,.305,.31,.31,.315,.32,.32,.325,.33,.33,
.335,.34,.34,.345,.35,.35,.355,.36,.36,.365,
.37,.37,.375,.38,.38,.385,.39,.39,.395,.4,
.4,.405,.41,.41,.415,.42,.42,.425,.43,.43,
.435,.44,.44,.445,.45,.45,.455,.46,.46,.465,
.47,.47,.475,.48,.48,.485,.49,.49,.495,.5,
.5,.505,.51,.51,.515,.52,.52,.525,.53,.53,
.535,.54,.54,.545,.55,.55,.555,.56,.56,.565,
.57,.57,.575,.58,.58,.585,.59,.59,.595,.6,
.6,.605,.61,.61,.615,.62,.62,.625,.63,.63,
.64,.64,.645,.65,.65,.655,.66,.66,.67,.68,
.7,.72,.73,.74,.75,.77,.78,.8,.82,.84,
.85,.86,.87,.88,.89,.9,.91,.926,.931,.94,
.96,.98,1.0,1.0,1.02,1.03,1.05,1.07,1.072,1.09,
1.11,1.13,1.15,1.17,1.19,1.199,1.21,1.24,1.26,1.28,
1.31,1.326,1.33,1.35,1.38,1.39,1.4,1.41,1.39,1.37,
.038,.047,.053,.062,.068,.073,.078,.083,.088,.093,
.098,.103,.108,.113,.118,.123,.128,.133,.138,.143,
.148,.153,.158,.163,.168,.173,.178,.183,.188,.193,
.198,.203,.208,.213,.218,.223,.228,.233,.238,.243,
.248,.253,.258,.263,.268,.273,.278,.283,.288,.293,
.298,.303,.308,.313,.318,.323,.328,.333,.338,.343,
.348,.353,.358,.363,.368,.373,.378,.383,.388,.393,
.398,.403,.408,.413,.418,.423,.428,.433,.438,.443,
.448,.453,.458,.463,.468,.473,.478,.483,.488,.493,
.498,.503,.508,.513,.518,.523,.528,.533,.538,.543,
.548,.553,.558,.563,.568,.573,.578,.583,.588,.593,
.598,.603,.608,.613,.618,.623,.628,.633,.638,.643,
.045,.06,.075,.09,.105,.12,.135,.15,.165,.18,
.195,.21,.225,.24,.255,.27,.285,.3,.315,.33,
.345,.36,.375,.39,.405,.42,.435,.45,.465,.48,
.495,.51,.525,.54,.555,.57,.585,.6,.615,.63,
.215,.23,.245,.26,.275,.29,.305,.32,.335,.35,
.365,.38,.395,.41,.425,.44,.455,.47,.485,.5,
.515,.53,.545,.56,.575,.59,.605,.62,.635,.65,
.1,.14,.18,.22,.26,.3,.34,.38,.42,.46,
.5,.54,.58,.62,.11,.15,.19,.23,.27,.31,
.35,.39,.43,.47,.51,.55,.59,.63,.37,.41];
const no2vY=[.05,.03,.07,.04,.085,.06,.03,.1,.045,.12,
.07,.05,.125,.09,.06,.11,.07,.13,.08,.1,
.06,.14,.09,.115,.155,.08,.13,.1,.16,.07,
.13,.09,.155,.105,.14,.13,.15,.115,.105,.17,
.15,.19,.135,.16,.2,.15,.18,.22,.165,.19,
.235,.18,.21,.24,.19,.22,.26,.2,.235,.21,
.255,.28,.225,.245,.29,.23,.265,.305,.24,.27,
.31,.25,.28,.325,.26,.3,.335,.27,.3,.33,
.285,.31,.345,.29,.32,.355,.3,.33,.37,.305,
.345,.39,.32,.35,.41,.33,.36,.42,.335,.375,
.43,.345,.385,.44,.36,.4,.45,.365,.41,.44,
.37,.42,.475,.38,.43,.49,.385,.44,.495,.4,
.45,.51,.41,.46,.53,.42,.47,.54,.43,.48,
.55,.44,.49,.56,.45,.5,.57,.46,.51,.59,
.47,.52,.6,.48,.53,.61,.49,.54,.62,.5,
.55,.63,.51,.56,.65,.52,.57,.67,.53,.59,
.66,.54,.6,.67,.55,.61,.69,.56,.62,.7,
.57,.63,.72,.58,.64,.66,.59,.71,.74,.62,
.65,.6,.71,.74,.63,.68,.73,.65,.71,.69,
.72,.74,.75,.72,.74,.78,.79,.81,.83,.87,
.85,.86,.89,.91,.9,.92,.91,.98,1.024,.95,
.97,.99,1.01,.975,1.04,1.04,1.06,1.1,1.132,1.1,
1.09,1.14,1.17,1.19,1.165,1.293,1.24,1.26,1.24,1.27,
1.253,1.378,1.33,1.35,1.349,1.41,1.4,1.39,1.37,1.38,
.065,.05,.08,.1,.075,.11,.095,.085,.12,.065,
.115,.08,.13,.105,.145,.1,.155,.12,.1,.16,
.135,.165,.14,.175,.155,.18,.165,.19,.175,.205,
.2,.19,.225,.205,.235,.215,.245,.225,.26,.24,
.27,.25,.285,.26,.29,.27,.305,.28,.315,.295,
.315,.3,.34,.31,.345,.32,.355,.325,.365,.34,
.38,.345,.39,.36,.405,.37,.415,.38,.425,.39,
.43,.4,.445,.41,.455,.42,.47,.43,.48,.44,
.49,.45,.505,.46,.515,.47,.525,.48,.535,.49,
.545,.5,.56,.51,.57,.52,.58,.53,.595,.54,
.61,.55,.625,.56,.635,.57,.645,.58,.655,.59,
.665,.6,.675,.61,.69,.62,.7,.63,.715,.64,
.05,.065,.085,.09,.11,.125,.14,.155,.17,.185,
.195,.215,.23,.25,.26,.275,.29,.305,.325,.335,
.355,.37,.375,.4,.41,.43,.445,.46,.475,.49,
.505,.52,.535,.55,.565,.575,.595,.61,.625,.635,
.235,.25,.26,.28,.295,.31,.325,.34,.355,.37,
.385,.4,.42,.43,.45,.46,.48,.495,.51,.525,
.54,.56,.57,.59,.6,.625,.645,.65,.67,.69,
.12,.16,.17,.22,.27,.32,.36,.41,.4,.47,
.54,.57,.6,.64,.1,.14,.2,.24,.28,.3,
.34,.41,.46,.51,.5,.53,.64,.66,.39,.44];
const no2vE=[4.5,5,4,5,3.5,5,4.5,5,4,3,
5,4.5,4,5,4.5,3,5,3.5,2.5,4,
5,3,2.5,4.5,3,2.5,3.5,2.5,3,2.5,
3,2.5,3,2.5,3.5,2.5,3,2.5,2.5,3,
3,2.5,4.5,3,2.5,4,3,3.5,4.5,5,
3,5,4,3,4.5,3,5,4,3.5,5,
3,4,5,3.5,3,4.5,5,3,4,3.5,
3,4.5,3.5,3,5,2.5,4,3.5,4.5,3,
4,3,2.5,4.5,3,3.5,5,2.5,3,4,
3,2.5,4.5,3,3,5,2.5,3.5,4,3,
3.5,4.5,3,5,3,4,3.5,5,3,4.5,
4,3,3.5,5,2.5,3.5,4.5,3,4,5,
3,3.5,4.5,3,4,5,2.5,3.5,4.5,3,
3.5,5,3,2.5,4.5,3,3,4,3,2.5,
4.5,3,3,3.5,2.5,3,4,3.5,3,4,
2.5,3.5,3,2.5,3,4,3,5,2.5,3.5,
2.5,4,3,3,2.5,3,3,4,2.5,3,
3.5,2.5,3,4,2.5,3,4.5,3,3,2.5,
2.5,3.5,3,2.5,4,3,3,2.5,3.5,3,
3,2.5,3.5,3,2.5,3.5,4,2.5,3.5,4,
4.5,5,4,3.5,4,4.5,4,3.5,3,4,
3.5,4,5,3.5,3,2.5,3,3.5,3,2.5,
2.5,3,3.5,3,2.5,2.5,3,3,4,3,
2.5,2.5,3,3,2.5,2.5,2.5,3,3,2.5,
5,4,3.5,5,4.5,3,5,2.5,4,3,
2.5,3,2.5,3,2.5,2.5,3,2.5,3,2.5,
3,2.5,3.5,2.5,3,4.5,3,2.5,4,5,
3.5,4.5,5,3,4,3.5,5,2.5,3,4.5,
4,3,5,4.5,3,3.5,5,2.5,4,3,
4.5,3,2.5,5,3.5,4,3,4.5,3,3.5,
5,3,4,3,4.5,2.5,3.5,5,3,4,
3,4.5,3.5,3,5,2.5,4,3.5,3,4.5,
2.5,3.5,3,5,4,3,4.5,3,2.5,3.5,
3,4,2.5,3.5,3,4.5,2.5,3,3.5,4,
2.5,3,3.5,4,2.5,3,3.5,2.5,3,4,
2.5,3,3.5,2.5,3,3,2.5,3.5,2.5,3,
5,4.5,5,3,4,2.5,3,2.5,3,3.5,
4.5,3,5,3.5,4,3,4.5,3.5,3,5,
3,4,3.5,3,4.5,3,3.5,2.5,3,3.5,
3,2.5,3.5,3,2.5,3,3,2.5,3,3,
2.5,3,4,3.5,3,4.5,3,5,3.5,3,
4,3,4.5,3,3.5,2.5,3,4,3,2.5,
3,2.5,3,3.5,2.5,3,2.5,3,2.5,3,
3,2.5,4,3,4.5,5,3,3.5,4,3,
3,2.5,3.5,3,2.5,3,4.5,5,3.5,3,
4,3,3.5,2.5,3,3.5,2.5,3,4.5,3];
const no2vFitX=[.0208,1.41];
const no2vFitY=[.03,1.43];
const no2vRefY=[.0208,1.405];
const no2vXTicks=[0,.2,.4,.6,.8,1,1.2,1.4];
const no2vYTicks=[0,.2,.4,.6,.8,1,1.2,1.4];
const no2vXLabels=["0.0","0.2","0.4","0.6","0.8","1.0","1.2","1.4"];
const no2vYLabels=["0.0","0.2","0.4","0.6","0.8","1.0","1.2","1.4"];
const no2vXLim=[-.044,1.4796];
const no2vYLim=[-.0414,1.4935];

const colorbarTicks=[.5,1,1.5,2,2.5,3,3.5,4,4.5,5];
const colorbarLabels=["0.5","1.0","1.5","2.0","2.5","3.0","3.5","4.0","4.5","5.0"];
const colorbarLim=[.5,5];

const o4uStats=[["N=3007","",""],["CORR=0.99","",""],["BIAS","=−1.51 × 10","41"],["STD","=1.17 × 10","42"],["RMS","=1.18 × 10","42"],["SLOPE=0.99","",""],["INTERC","=1.18 × 10","41"]];
const no2uStats=[["N=3007","",""],["CORR=1.00","",""],["BIAS","=1.01 × 10","15"],["STD","=1.67 × 10","15"],["RMS","=1.95 × 10","15"],["SLOPE=1.03","",""],["INTERC","=2.42 × 10","14"]];
const o4vStats=[["N=3007","",""],["CORR=0.98","",""],["BIAS","=5.33 × 10","41"],["STD","=3.42 × 10","42"],["RMS","=3.46 × 10","42"],["SLOPE=1.02","",""],["INTERC","=−2.86 × 10","41"]];
const no2vStats=[["N=3007","",""],["CORR=1.00","",""],["BIAS","=6.26 × 10","14"],["STD","=1.92 × 10","15"],["RMS","=2.02 × 10","15"],["SLOPE=1.01","",""],["INTERC","=4.31 × 10","14"]];

const root=document.getElementById('figure');
const NS=root.namespaceURI;
const viridisStops=['#440154','#482475','#414487','#355f8d','#2a788e','#21918c','#22a884','#44bf70','#7ad151','#bddf26','#fde725'];
const statLineOffsets=[61,101,152,206,259,301,353];

function hex(c){return [1,3,5].map(i=>parseInt(c.substr(i,2),16));}
function viridis(t){
  t=Math.max(0,Math.min(1,t))*10;
  const i=Math.min(9,Math.floor(t));
  const a=hex(viridisStops[i]),b=hex(viridisStops[i+1]),f=t-i;
  return 'rgb('+a.map((v,k)=>Math.round(v+(b[k]-v)*f)).join(',')+')';
}
function make(tag,attrs,parent,txt){
  const el=document.createElementNS(NS,tag);
  for(const k in attrs){el.setAttribute(k,attrs[k]);}
  if(txt!==undefined){el.textContent=txt;}
  parent.appendChild(el);
  return el;
}
function sciText(parent,x,y,anchor,exp){
  const t=make('text',{x:x,y:y,'text-anchor':anchor,'font-size':33.5},parent);
  make('tspan',{},t,'×10');
  make('tspan',{'font-size':23.5,dy:-13},t,exp);
  return t;
}

function drawPanel(p){
  const g=make('g',{},root);
  
  
  const L=p.left,R=p.left+982,T=p.top,B=p.top+913;
  const sx=v=>L+(v-p.xLim[0])/(p.xLim[1]-p.xLim[0])*(R-L);
  const sy=v=>B-(v-p.yLim[0])/(p.yLim[1]-p.yLim[0])*(B-T);

  const bg=make('rect',{x:L,y:T,width:R-L,height:B-T,fill:'#fff'},g);
  
  

  const pts=make('g',{},g);
  
  
  p.X.forEach((xv,i)=>{
    const c=make('circle',{cx:sx(xv).toFixed(1),cy:sy(p.Y[i]).toFixed(1),r:3.8,fill:viridis(((p.E[i]??3)-colorbarLim[0])/(colorbarLim[1]-colorbarLim[0]))},pts);
    
    
  });

  const ref=make('line',{x1:sx(p.fitX[0]),y1:sy(p.refY[0]),x2:sx(p.fitX[1]),y2:sy(p.refY[1]),stroke:'#000','stroke-width':4,'stroke-dasharray':'16 7'},g);
  
  
  const fit=make('line',{x1:sx(p.fitX[0]),y1:sy(p.fitY[0]),x2:sx(p.fitX[1]),y2:sy(p.fitY[1]),stroke:'#000','stroke-width':4.4},g);
  
  

  const box=make('rect',{x:L+20,y:T+81,width:p.boxW,height:399,rx:27,ry:27,fill:'#f5deb3','fill-opacity':.5,stroke:'#000','stroke-opacity':.42,'stroke-width':3},g);
  
  
  p.stats.forEach((s,i)=>{
    const isSlope=s[0].indexOf('SLOPE')===0;
    const t=make('text',{x:L+20+(isSlope?32:35),y:T+81+statLineOffsets[i],'font-size':33.6},g);
    
    
    make('tspan',{'font-style':'italic'},t,s[0]);
    if(s[1]){make('tspan',{},t,s[1]);}
    if(s[2]){make('tspan',{'font-size':23.5,dy:-13},t,s[2]);}
  });

  const frame=make('rect',{x:L,y:T,width:R-L,height:B-T,fill:'none',stroke:'#000','stroke-width':2.4},g);
  
  

  p.xTicks.forEach((v,i)=>{
    const tk=make('line',{x1:sx(v),x2:sx(v),y1:B,y2:B+13,stroke:'#000','stroke-width':2},g);
    
    
    const lb=make('text',{x:sx(v),y:B+50,'text-anchor':'middle','font-size':31},g,p.xLabels[i]);
    
    
  });
  p.yTicks.forEach((v,i)=>{
    const tk=make('line',{x1:L-13,x2:L,y1:sy(v),y2:sy(v),stroke:'#000','stroke-width':2},g);
    
    
    const lb=make('text',{x:L-20,y:sy(v)+11,'text-anchor':'end','font-size':31},g,p.yLabels[i]);
    
    
  });

  const title=make('text',{x:(L+R)/2,y:T-23,'text-anchor':'middle','font-size':41.4},g,p.title);
  
  
  const xl=make('text',{x:(L+R)/2,y:B+101,'text-anchor':'middle','font-size':34.3},g,'BLQ SCDs (molec/cm^2)');
  
  
  const yl=make('text',{transform:'translate('+p.yLabelX+','+((T+B)/2)+') rotate(-90)','text-anchor':'middle','font-size':34.5},g,'CMN SCDs (molec/cm^2)');
  
  

  const ot=sciText(g,L+2,T-17,'start',p.exp);
  
  
  const ob=sciText(g,R-2,B+105,'end',p.exp);
  
  

  const cL=L+1045,cR=L+1089;
  const cy=v=>B-(v-colorbarLim[0])/(colorbarLim[1]-colorbarLim[0])*(B-T);
  const cb=make('rect',{x:cL,y:T,width:cR-cL,height:B-T,fill:'url(#viridis)',stroke:'#000','stroke-width':2.4},g);
  
  
  colorbarTicks.forEach((v,i)=>{
    const tk=make('line',{x1:cR,x2:cR+13,y1:cy(v),y2:cy(v),stroke:'#000','stroke-width':2},g);
    
    
    const lb=make('text',{x:cR+26,y:cy(v)+11,'font-size':31},g,colorbarLabels[i]);
    
    
  });
  const cl=make('text',{transform:'translate('+(L+1207)+','+((T+B)/2)+') rotate(-90)','text-anchor':'middle','font-size':34.5},g,'Elevation (°)');
  
  
}

drawPanel({id:'o4-u',title:'O4 SCDs in U',left:165,top:80,boxW:421,yLabelX:91,exp:'43',X:o4uX,Y:o4uY,E:o4uE,fitX:o4uFitX,fitY:o4uFitY,refY:o4uRefY,xTicks:o4uXTicks,yTicks:o4uYTicks,xLabels:o4uXLabels,yLabels:o4uYLabels,xLim:o4uXLim,yLim:o4uYLim,stats:o4uStats});
drawPanel({id:'no2-u',title:'NO2 SCDs in U',left:1768,top:80,boxW:421,yLabelX:1662,exp:'17',X:no2uX,Y:no2uY,E:no2uE,fitX:no2uFitX,fitY:no2uFitY,refY:no2uRefY,xTicks:no2uXTicks,yTicks:no2uYTicks,xLabels:no2uXLabels,yLabels:no2uYLabels,xLim:no2uXLim,yLim:no2uYLim,stats:no2uStats});
drawPanel({id:'o4-v',title:'O4 SCDs in V',left:165,top:1276,boxW:448,yLabelX:57,exp:'44',X:o4vX,Y:o4vY,E:o4vE,fitX:o4vFitX,fitY:o4vFitY,refY:o4vRefY,xTicks:o4vXTicks,yTicks:o4vYTicks,xLabels:o4vXLabels,yLabels:o4vYLabels,xLim:o4vXLim,yLim:o4vYLim,stats:o4vStats});
drawPanel({id:'no2-v',title:'NO2 SCDs in V',left:1768,top:1276,boxW:421,yLabelX:1662,exp:'17',X:no2vX,Y:no2vY,E:no2vE,fitX:no2vFitX,fitY:no2vFitY,refY:no2vRefY,xTicks:no2vXTicks,yTicks:no2vYTicks,xLabels:no2vXLabels,yLabels:no2vYLabels,xLim:no2vXLim,yLim:no2vYLim,stats:no2vStats});
</script>
</body>
</html>
